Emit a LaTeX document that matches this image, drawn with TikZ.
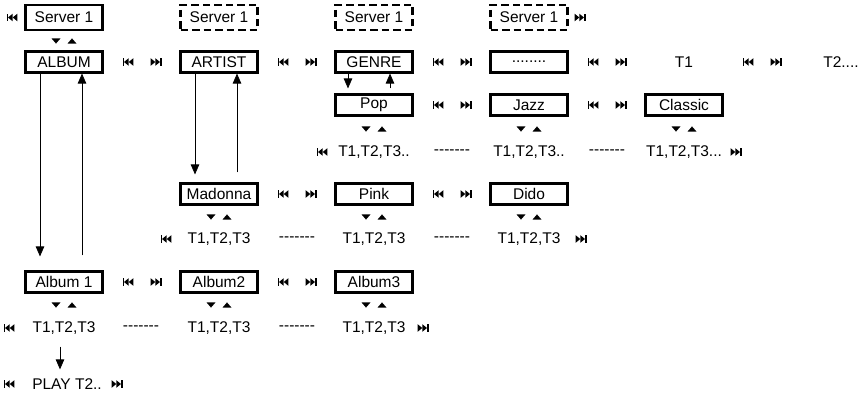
\documentclass[tikz,border=0pt]{standalone}
\usepackage{fontspec}
\setmainfont{Liberation Sans}
\usetikzlibrary{arrows.meta}
\newcommand\diagfont{\fontsize{15.5}{17}\selectfont}
\newcommand\dashrun{-\kern0pt-\kern0pt-\kern0pt-\kern0pt-\kern0pt-\kern0pt-}
\begin{document}
\begin{tikzpicture}[x=1pt,y=-1pt,
  box/.style={draw,line width=2.1pt,minimum width=77pt,minimum height=21pt,inner sep=0pt,font=\diagfont},
  sbox/.style={box,minimum height=25pt},
  dbox/.style={sbox,dash pattern=on 7.5pt off 4pt,line width=2.5pt},
  lbl/.style={inner sep=0pt,font=\diagfont},
  arr/.style={line width=0.8pt,-{Triangle[length=10pt,width=8.5pt]}},
  prev/.pic={\fill (-5.5,-3.8) rectangle (-4,3.8);
             \fill (-4,0) -- (0.7,-3.8) -- (0.7,3.8) -- cycle;
             \fill (0.7,0) -- (5.4,-3.8) -- (5.4,3.8) -- cycle;},
  next/.pic={\fill (5.5,-3.8) rectangle (4,3.8);
             \fill (4,0) -- (-0.7,-3.8) -- (-0.7,3.8) -- cycle;
             \fill (-0.7,0) -- (-5.4,-3.8) -- (-5.4,3.8) -- cycle;},
  updown/.pic={\fill (-12.5,-2.6) -- (-3.5,-2.6) -- (-8,2.6) -- cycle;
               \fill (3.5,2.6) -- (12.5,2.6) -- (8,-2.6) -- cycle;},
]
\useasboundingbox (0,0) rectangle (863,395);

% row 1: servers
\node[sbox] (s1) at (64,17.5) {Server 1};
\node[dbox] (s2) at (219,17.5) {Server 1};
\node[dbox] (s3) at (374,17.5) {Server 1};
\node[dbox] (s4) at (529,17.5) {Server 1};
\pic at (12,17.5) {prev};
\pic at (580,17.5) {next};
\pic at (64,41) {updown};

% row 2: categories
\node[box] (album) at (64,62) {ALBUM};
\node[box] (artist) at (219,62) {ARTIST};
\node[box] (genre) at (374,62) {GENRE};
\node[box] (dots) at (529,62) {........};
\node[lbl] (t1) at (684,62) {T1};
\node[lbl] (t2) at (841,62) {T2....};
\foreach \c in {64,219,374,529,684}{
  \pic at (\c+64,62) {prev};
  \pic at (\c+92,62) {next};
}

% row 3: genres
\node[box] (pop) at (374,105) {Pop};
\node[box] (jazz) at (529,105) {Jazz};
\node[box] (classic) at (684,105) {Classic};
\foreach \c in {374,529}{
  \pic at (\c+64,105) {prev};
  \pic at (\c+92,105) {next};
}
\foreach \c in {374,529,684}{\pic at (\c,129) {updown};}
\pic at (322,152) {prev};
\node[lbl] (gp) at (374,152) {T1,T2,T3..};
\node[lbl] (gd1) at (452,152) {\dashrun};
\node[lbl] (gj) at (529,152) {T1,T2,T3..};
\node[lbl] (gd2) at (607,152) {\dashrun};
\node[lbl] (gc) at (684,152) {T1,T2,T3...};
\pic at (736,152) {next};

% row 4: artists
\node[box] (madonna) at (219,194) {Madonna};
\node[box] (pink) at (374,194) {Pink};
\node[box] (dido) at (529,194) {Dido};
\foreach \c in {219,374}{
  \pic at (\c+64,194) {prev};
  \pic at (\c+92,194) {next};
}
\foreach \c in {219,374,529}{\pic at (\c,217) {updown};}
\pic at (166,239) {prev};
\node[lbl] (am) at (219,239) {T1,T2,T3};
\node[lbl] (ad1) at (297,239) {\dashrun};
\node[lbl] (ap) at (374,239) {T1,T2,T3};
\node[lbl] (ad2) at (452,239) {\dashrun};
\node[lbl] (ado) at (529,239) {T1,T2,T3};
\pic at (581,239) {next};

% row 5: albums
\node[box] (album1) at (64,282) {Album 1};
\node[box] (album2) at (219,282) {Album2};
\node[box] (album3) at (374,282) {Album3};
\foreach \c in {64,219}{
  \pic at (\c+64,282) {prev};
  \pic at (\c+92,282) {next};
}
\foreach \c in {64,219,374}{\pic at (\c,305) {updown};}
\pic at (9,328) {prev};
\node[lbl] (ta1) at (64,328) {T1,T2,T3};
\node[lbl] (td1) at (141,328) {\dashrun};
\node[lbl] (ta2) at (219,328) {T1,T2,T3};
\node[lbl] (td2) at (297,328) {\dashrun};
\node[lbl] (ta3) at (374,328) {T1,T2,T3};
\pic at (423,328) {next};

% play
\pic at (9,384) {prev};
\node[lbl] (play) at (67,384) {PLAY T2..};
\pic at (117,384) {next};

% connectors
\draw[arr,shorten >=14pt] ([xshift=-24pt]album.south) -- ([xshift=-24pt]album1.north);
\draw[arr,shorten <=15pt] ([xshift=18pt]album1.north) -- ([xshift=18pt]album.south);
\draw[arr,shorten >=8pt] ([xshift=-24pt]artist.south) -- ([xshift=-24pt]madonna.north);
\draw[arr,shorten <=10pt] ([xshift=18pt]madonna.north) -- ([xshift=18pt]artist.south);
\draw[arr,shorten >=5pt] ([xshift=-26pt]genre.south) -- ([xshift=-26pt]pop.north);
\draw[arr,shorten <=5pt] ([xshift=16pt]pop.north) -- ([xshift=16pt]genre.south);
\draw[arr,shorten <=12pt,shorten >=9pt] ([xshift=-4pt]ta1.south) -- ([xshift=-4pt]ta1.south |- play.north);
\end{tikzpicture}
\end{document}
